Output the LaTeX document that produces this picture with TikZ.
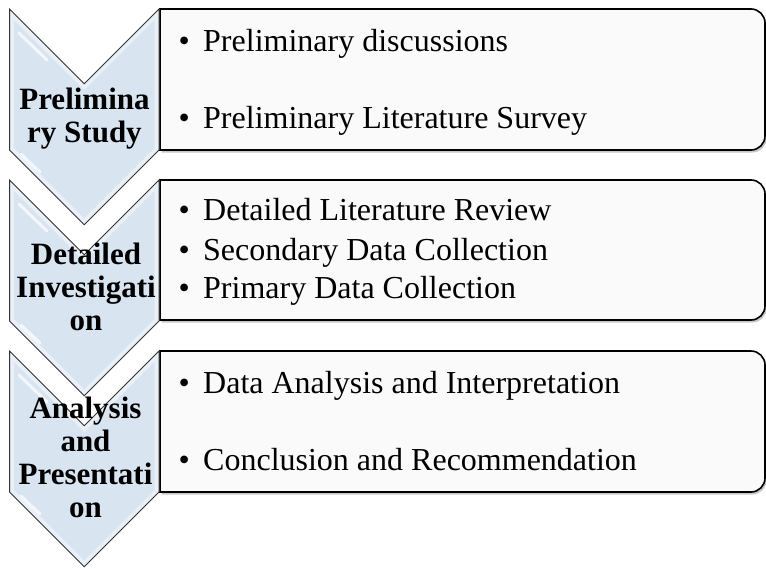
\documentclass[tikz,border=0pt]{standalone}
\usepackage{fontspec}
\setmainfont{Liberation Serif}
\definecolor{chevfill}{HTML}{D9E4F1}
\definecolor{panelfill}{HTML}{FAFAFA}
\definecolor{chevedge}{HTML}{333333}

% chevron with its top edge at y = #1
\newcommand\chevronpath[1]{(9.5,#1) -- (84.25,#1+74.75) -- (159,#1) -- (159,#1+141) -- (84.25,#1+215.75) -- (9.5,#1+141) -- cycle}
% panel with top #1 and bottom #2, rounded on the right only
\newcommand\panelpath[2]{(160,#1) -- (751,#1) .. controls (758.7,#1) and (765,#1+6.3) .. (765,#1+14) -- (765,#2-14) .. controls (765,#2-6.3) and (758.7,#2) .. (751,#2) -- (160,#2) -- cycle}

\begin{document}
\begin{tikzpicture}[x=1pt,y=-1pt,
  chevron/.style={draw=chevedge, line width=1pt, line join=miter},
  panel/.style={fill=panelfill, draw=black, line width=1.6pt},
  panelshadow/.style={fill=black!22, draw=none},
  bevel/.style={draw=white, opacity=0.45, line width=9pt},
  gloss/.style={draw=white, opacity=0.7, line width=3pt, line cap=round},
  phase/.style={font=\fontsize{31}{33}\selectfont\bfseries, align=center, inner sep=0pt, anchor=base},
  bullet/.style={font=\fontsize{32}{38}\selectfont, inner sep=0pt, anchor=base west},
  item/.style={font=\fontsize{32}{38}\selectfont, inner sep=0pt, anchor=base west}]

\useasboundingbox (0,0) rectangle (766,568);

% panels with a soft drop shadow
\foreach \t/\b in {9/150, 180/320, 351/492} {
  \fill[panelshadow] [shift={(1.5,2.5)}] \panelpath{\t}{\b};
  \draw[panel] \panelpath{\t}{\b};
}

% chevrons with a light inner bevel and glossy streaks
\foreach \t in {9, 180, 351} {
  \fill[chevfill] \chevronpath{\t};
  \begin{scope}
    \clip \chevronpath{\t};
    \draw[bevel] \chevronpath{\t};
    \draw[gloss] (19,\t+24) -- (47,\t+51);
    \draw[gloss] (21,\t+145) -- (40,\t+163);
  \end{scope}
  \draw[chevron] \chevronpath{\t};
}

% phase labels (anchored at the baseline of the last line)
\node[phase] (p1) at (84.5,142) {Prelimina\\ry Study};
\node[phase] (p2) at (86,330) {Detailed\\Investigati\\on};
\node[phase] (p3) at (85.5,517) {Analysis\\and\\Presentati\\on};

% panel items
\node[bullet] (d11) at (178.5,51) {\textbullet};
\node[item] (i11) at (203,51) {Preliminary discussions};
\node[bullet] (d12) at (178.5,128) {\textbullet};
\node[item] (i12) at (203,128) {Preliminary Literature Survey};

\node[bullet] (d21) at (178.5,220) {\textbullet};
\node[item] (i21) at (203,220) {Detailed Literature Review};
\node[bullet] (d22) at (178.5,260) {\textbullet};
\node[item] (i22) at (203,260) {Secondary Data Collection};
\node[bullet] (d23) at (178.5,298) {\textbullet};
\node[item] (i23) at (203,298) {Primary Data Collection};

\node[bullet] (d31) at (178.5,393) {\textbullet};
\node[item] (i31) at (203,393) {Data Analysis and Interpretation};
\node[bullet] (d32) at (178.5,470) {\textbullet};
\node[item] (i32) at (203,470) {Conclusion and Recommendation};
\end{tikzpicture}
\end{document}
